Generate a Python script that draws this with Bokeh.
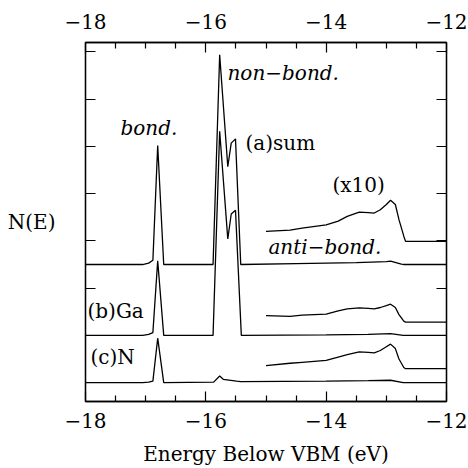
import numpy as np
from bokeh.plotting import figure
from bokeh.models import LinearAxis, Range1d, FixedTicker, Label
from bokeh.embed import file_html
from bokeh.resources import INLINE

# ---------------- data ----------------
x_ticks = [-18, -16, -14, -12]
x_tick_labels = ["\u221218", "\u221216", "\u221214", "\u221212"]
x_minor = [-17.5, -17.0, -16.5, -15.5, -15.0, -14.5, -13.5, -13.0, -12.5]
y_ticks = [0, 1, 2, 3, 4, 5, 6, 7]

# panel baselines
base_sum, base_ga, base_n = 2.5, 1.0, 0.0

# (a) sum, relative to its baseline
sum_E = [-18.0, -17.05, -16.95, -16.88, -16.80, -16.70, -15.88, -15.77, -15.635,
         -15.578, -15.507, -15.42, -14.5, -13.5, -13.0, -12.93, -12.75, -12.70, -12.0]
sum_N = [0.0, 0.0, 0.03, 0.09, 2.52, 0.0, 0.0, 4.44, 2.07,
         2.57, 2.66, 0.0, 0.02, 0.04, 0.06, 0.07, 0.01, 0.0, 0.0]

# (b) Ga
ga_E = [-18.0, -17.05, -16.95, -16.88, -16.80, -16.70, -15.88, -15.77, -15.635,
        -15.578, -15.507, -15.41, -14.0, -13.3, -12.93, -12.72, -12.0]
ga_N = [0.0, 0.0, 0.02, 0.06, 1.58, 0.0, 0.0, 4.32, 2.04,
        2.57, 2.65, 0.0, 0.01, 0.02, 0.035, 0.0, 0.0]

# (c) N
n_E = [-18.0, -17.05, -16.95, -16.88, -16.80, -16.70, -15.87, -15.77, -15.71,
       -15.49, -15.42, -14.0, -13.3, -12.93, -12.72, -12.0]
n_N = [0.0, 0.0, 0.01, 0.03, 0.94, 0.0, 0.01, 0.14, 0.07,
       0.03, 0.02, 0.03, 0.04, 0.05, 0.0, 0.0]

# anti-bonding region magnified (x10), relative to panel baseline
x10_E = [-15.0, -14.6, -14.4, -14.0, -13.8, -13.65, -13.45, -13.3, -13.2,
         -13.1, -13.0, -12.93, -12.85, -12.79, -12.71, -12.68, -12.0]
sum_x10 = [0.70, 0.73, 0.77, 0.84, 0.92, 1.02, 1.11, 1.10, 1.09,
           1.16, 1.27, 1.36, 1.27, 0.95, 0.60, 0.49, 0.49]
ga_x10 = [0.42, 0.40, 0.43, 0.45, 0.52, 0.56, 0.58, 0.57, 0.56,
          0.59, 0.63, 0.66, 0.59, 0.44, 0.30, 0.28, 0.28]
n_x10 = [0.36, 0.41, 0.43, 0.47, 0.54, 0.59, 0.65, 0.64, 0.63,
         0.68, 0.76, 0.815, 0.72, 0.50, 0.32, 0.295, 0.295]

FONT = "DejaVu Serif"
FS = "20px"

p = figure(width=468, height=468, x_range=Range1d(-18, -12), y_range=Range1d(-0.4, 7.2),
           output_backend="svg", toolbar_location=None,
           x_axis_location=None, y_axis_location=None,
           min_border_left=85, min_border_right=22, min_border_top=42, min_border_bottom=65)
p.grid.visible = False
p.outline_line_color = "black"
p.outline_line_width = 1.3
p.background_fill_color = "white"
p.border_fill_color = "white"


def style(ax, labels):
    ax.axis_line_color = "black"
    ax.axis_line_width = 1.3
    ax.major_tick_line_color = "black"
    ax.major_tick_line_width = 1.2
    ax.minor_tick_line_color = "black"
    ax.minor_tick_line_width = 1.2
    ax.major_tick_in = 10
    ax.major_tick_out = 0
    ax.minor_tick_in = 6
    ax.minor_tick_out = 0
    ax.major_label_text_font = FONT
    ax.major_label_text_font_size = FS
    ax.major_label_text_color = "black"
    ax.major_label_standoff = 11
    if not labels:
        ax.major_label_text_font_size = "0px"
        ax.major_label_standoff = 0


for loc in ("below", "above"):
    ax = LinearAxis(ticker=FixedTicker(ticks=x_ticks, minor_ticks=x_minor))
    ax.major_label_overrides = {t: l for t, l in zip(x_ticks, x_tick_labels)}
    style(ax, True)
    if loc == "above":
        ax.major_label_standoff = 14
    if loc == "below":
        ax.axis_label = "Energy Below VBM (eV)"
        ax.axis_label_text_font = FONT
        ax.axis_label_text_font_style = "normal"
        ax.axis_label_text_font_size = FS
        ax.axis_label_text_color = "black"
        ax.axis_label_standoff = 11
    p.add_layout(ax, loc)

for loc in ("left", "right"):
    ax = LinearAxis(ticker=FixedTicker(ticks=y_ticks, minor_ticks=[]))
    ax.major_label_overrides = {t: "" for t in y_ticks}
    style(ax, False)
    if loc == "left":
        ax.axis_label = "N(E)"
        ax.axis_label_orientation = "horizontal"
        ax.axis_label_text_font = FONT
        ax.axis_label_text_font_style = "normal"
        ax.axis_label_text_font_size = FS
        ax.axis_label_text_color = "black"
        ax.axis_label_standoff = 30
    p.add_layout(ax, loc)

LW = 1.3
p.line(sum_E, [v + base_sum for v in sum_N], color="black", line_width=LW)
p.line(ga_E, [v + base_ga for v in ga_N], color="black", line_width=LW)
p.line(n_E, [v + base_n for v in n_N], color="black", line_width=LW)
p.line(x10_E, [v + base_sum for v in sum_x10], color="black", line_width=LW)
p.line(x10_E, [v + base_ga for v in ga_x10], color="black", line_width=LW)
p.line(x10_E, [v + base_n for v in n_x10], color="black", line_width=LW)

labels = [
    ("bond.", -17.418, 5.39, "italic"),
    ("non\u2212bond.", -15.64, 6.55, "italic"),
    ("(a)sum", -15.34, 5.07, "normal"),
    ("(x10)", -13.895, 4.19, "normal"),
    ("anti\u2212bond.", -14.96, 2.88, "italic"),
    ("(b)Ga", -17.967, 1.52, "normal"),
    ("(c)N", -17.917, 0.55, "normal"),
]
for txt, x, y, st in labels:
    p.add_layout(Label(x=x, y=y, text=txt, text_font=FONT, text_font_style=st,
                       text_font_size=FS, text_align="left", text_baseline="middle",
                       text_color="black"))

open("out.html", "w").write(file_html(p, INLINE))
